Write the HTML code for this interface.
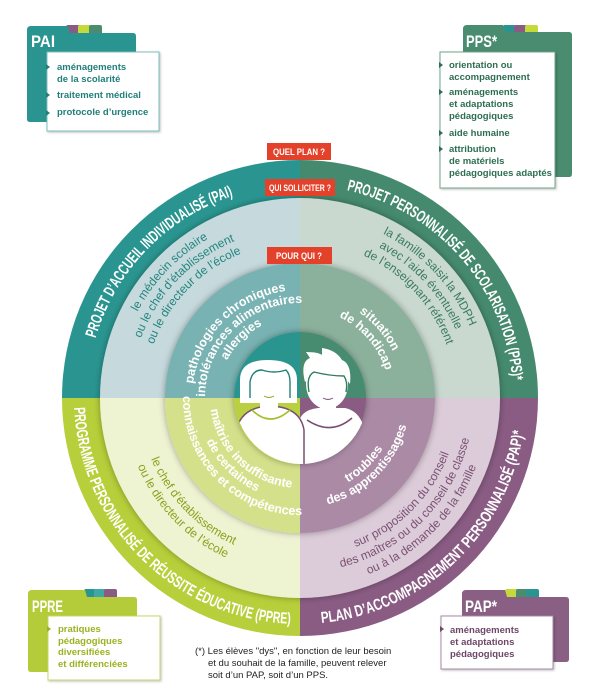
<!DOCTYPE html>
<html><head><meta charset="utf-8">
<style>
html,body{margin:0;padding:0;background:#fff;}
body{width:600px;height:695px;overflow:hidden;position:relative;font-family:"Liberation Sans",sans-serif;}
svg{position:absolute;left:0;top:0;}
</style></head>
<body>
<svg id="s" width="600" height="695" viewBox="0 0 600 695" xmlns="http://www.w3.org/2000/svg">
<defs>
<filter id="sh" x="-20%" y="-20%" width="140%" height="140%"><feDropShadow dx="0" dy="0" stdDeviation="3.5" flood-color="#000" flood-opacity="0.35"/></filter>
<filter id="sh2" x="-20%" y="-20%" width="140%" height="140%"><feDropShadow dx="1" dy="1" stdDeviation="1.2" flood-color="#000" flood-opacity="0.25"/></filter>
<clipPath id="cc"><circle cx="301" cy="398" r="66"/></clipPath>
</defs>
<g id="rings"></g>
<g id="texts"></g>
<!-- children -->
<g clip-path="url(#cc)">
  <path d="M298,470 L298,425 Q300,410 318,408 L345,408 Q364,412 366,440 L366,470 Z" fill="#fff"/>
  <path d="M307,420 Q331,436 352,418" fill="none" stroke="#7a4e72" stroke-width="1.6"/>
  <path d="M236,470 L236,432 Q240,408 268,406 Q300,406 304,430 L304,470 Z" fill="#fff" stroke="#7a4e72" stroke-width="1.5"/>
  <path d="M252,410 Q270,428 290,410" fill="none" stroke="#a6be2c" stroke-width="1.6"/>
</g>
<rect x="260" y="395" width="18" height="16" fill="#fff"/>
<rect x="320" y="395" width="16" height="16" fill="#fff"/>
<path d="M240,403 L240,380 Q240,360 268,360 Q297,360 297,380 L297,403 Z" fill="#fff"/>
<path d="M250,398 L250,382 Q252,370 262,370 Q274,374 286,370 Q290,374 290,382 L290,398" fill="none" stroke="#1f7f7a" stroke-width="1.4"/>
<ellipse cx="327" cy="384" rx="21" ry="25" fill="#fff"/>
<path d="M305,382 Q300,362 310,358 L306,352 Q318,352 322,355 L322,348 Q336,350 342,360 Q352,364 350,384 L344,376 Q330,374 318,370 Q312,376 305,382 Z" fill="#fff"/>
<path d="M309,392 Q306,376 314,372 Q330,376 344,376 Q348,382 346,392" fill="none" stroke="#2f7d5e" stroke-width="1.4"/>
<path d="M264,396 Q269,399 274,396" fill="none" stroke="#8aa31e" stroke-width="1"/>
<path d="M323,398 Q328,401 333,398" fill="none" stroke="#7a4e72" stroke-width="1"/>

<!-- red labels -->
<g font-family="Liberation Sans, sans-serif" font-weight="bold" font-size="9.5" fill="#fff" text-anchor="middle">
<rect x="267" y="143" width="64" height="17" fill="#e4412b"/>
<text x="299" y="155" textLength="52" lengthAdjust="spacingAndGlyphs">QUEL PLAN ?</text>
<rect x="265" y="179" width="70" height="17" fill="#e4412b"/>
<text x="300" y="191" textLength="62" lengthAdjust="spacingAndGlyphs">QUI SOLLICITER ?</text>
<rect x="267" y="247" width="65" height="17" fill="#e4412b"/>
<text x="299" y="259" textLength="46" lengthAdjust="spacingAndGlyphs">POUR QUI ?</text>
</g>

<!-- PAI folder -->
<g font-family="Liberation Sans, sans-serif">
<rect x="66" y="25" width="14" height="12" rx="2" fill="#8a5c84"/>
<rect x="78" y="25" width="13" height="12" rx="2" fill="#c4d93a"/>
<rect x="89" y="25" width="13" height="12" rx="2" fill="#4a8c6f"/>
<path d="M27,30 Q27,26 31,26 L68,26 L70,33 L133,33 Q136,33 136,36 L136,119 Q136,122 133,122 L30,122 Q27,122 27,119 Z" fill="#2a9590"/>
<text x="31" y="47" font-size="17" font-weight="bold" fill="#fff" textLength="24" lengthAdjust="spacingAndGlyphs">PAI</text>
<rect x="47" y="52" width="112" height="79" fill="#fff" stroke="#7fbfbc" stroke-width="1" filter="url(#sh2)"/>
<g font-size="9.5" font-weight="bold" fill="#217f7a">
<path d="M46,64 l4,3 l-4,3z M46,92 l4,3 l-4,3z M46,110 l4,3 l-4,3z" fill="#217f7a"/>
<text x="57" y="70">aménagements</text>
<text x="57" y="82">de la scolarité</text>
<text x="57" y="98">traitement médical</text>
<text x="57" y="115">protocole d’urgence</text>
</g>
</g>

<!-- PPS folder -->
<g font-family="Liberation Sans, sans-serif">
<rect x="503" y="25" width="13" height="12" rx="2" fill="#2a9590"/>
<rect x="514" y="25" width="13" height="12" rx="2" fill="#8a5c84"/>
<rect x="525" y="25" width="13" height="12" rx="2" fill="#c4d93a"/>
<path d="M463,29 Q463,25 467,25 L503,25 L505,32 L569,32 Q572,32 572,35 L572,174 Q572,177 569,177 L466,177 Q463,177 463,174 Z" fill="#4a8c6f"/>
<text x="466" y="47" font-size="17" font-weight="bold" fill="#fff" textLength="31" lengthAdjust="spacingAndGlyphs">PPS*</text>
<rect x="440" y="52" width="115" height="136" fill="#fff" stroke="#6fa68d" stroke-width="1" filter="url(#sh2)"/>
<g font-size="9.5" font-weight="bold" fill="#2d6e52">
<path d="M439,62 l4,3 l-4,3z M439,89 l4,3 l-4,3z M439,130 l4,3 l-4,3z M439,146 l4,3 l-4,3z"/>
<text x="449" y="68">orientation ou</text>
<text x="449" y="80">accompagnement</text>
<text x="449" y="95">aménagements</text>
<text x="449" y="107">et adaptations</text>
<text x="449" y="119">pédagogiques</text>
<text x="449" y="136">aide humaine</text>
<text x="449" y="152">attribution</text>
<text x="449" y="164">de matériels</text>
<text x="449" y="176">pédagogiques adaptés</text>
</g>
</g>

<!-- PPRE folder -->
<g font-family="Liberation Sans, sans-serif">
<rect x="84" y="589" width="12" height="12" rx="2" fill="#2a9590"/>
<rect x="94" y="589" width="12" height="12" rx="2" fill="#3fa7a4"/>
<rect x="104" y="589" width="13" height="12" rx="2" fill="#8a5c84"/>
<path d="M28,594 Q28,590 32,590 L85,590 L87,597 L134,597 Q137,597 137,600 L137,669 Q137,672 134,672 L31,672 Q28,672 28,669 Z" fill="#b5cc3a"/>
<text x="32" y="612" font-size="17" font-weight="bold" fill="#fff" textLength="31" lengthAdjust="spacingAndGlyphs">PPRE</text>
<rect x="48" y="616" width="112" height="64" fill="#fff" stroke="#c8da6a" stroke-width="1" filter="url(#sh2)"/>
<g font-size="9.5" font-weight="bold" fill="#9bb220">
<path d="M47,626 l4,3 l-4,3z"/>
<text x="58" y="632">pratiques</text>
<text x="58" y="644">pédagogiques</text>
<text x="58" y="655">diversifiées</text>
<text x="58" y="667">et différenciées</text>
</g>
</g>

<!-- PAP folder -->
<g font-family="Liberation Sans, sans-serif">
<rect x="505" y="589" width="13" height="12" rx="2" fill="#c4d93a"/>
<rect x="516" y="589" width="12" height="12" rx="2" fill="#4a8c6f"/>
<rect x="526" y="589" width="13" height="12" rx="2" fill="#2a9590"/>
<path d="M462,594 Q462,590 466,590 L505,590 L507,597 L566,597 Q569,597 569,600 L569,659 Q569,662 566,662 L465,662 Q462,662 462,659 Z" fill="#8a5f84"/>
<text x="465" y="612" font-size="17" font-weight="bold" fill="#fff" textLength="32" lengthAdjust="spacingAndGlyphs">PAP*</text>
<rect x="441" y="616" width="112" height="53" fill="#fff" stroke="#a78aa2" stroke-width="1" filter="url(#sh2)"/>
<g font-size="9.5" font-weight="bold" fill="#6e4767">
<path d="M440,626 l4,3 l-4,3z"/>
<text x="450" y="633">aménagements</text>
<text x="450" y="645">et adaptations</text>
<text x="450" y="657">pédagogiques</text>
</g>
</g>

<!-- footnote -->
<g font-family="Liberation Sans, sans-serif" font-size="9.5" fill="#222">
<text x="195" y="654">(*) Les élèves "dys", en fonction de leur besoin</text>
<text x="208" y="666">et du souhait de la famille, peuvent relever</text>
<text x="208" y="678">soit d’un PAP, soit d’un PPS.</text>
</g>
</svg>
<script>
(function(){
var cx=300,cy=398,NS="http://www.w3.org/2000/svg";
function P(r,a){a=a*Math.PI/180;return (cx+r*Math.cos(a)).toFixed(2)+","+(cy+r*Math.sin(a)).toFixed(2);}
function sector(r,a0,a1,fill){return '<path d="M'+cx+','+cy+' L'+P(r,a0)+' A'+r+','+r+' 0 0 1 '+P(r,a1)+' Z" fill="'+fill+'"/>';}
var Q=[[180,270],[270,360],[0,90],[90,180]];
var cols=[
 ["#2a9590","#458a6e","#8a5c84","#b7cf3a"],
 ["#c6dadd","#c9d9cf","#dccbd8","#eef3d2"],
 ["#79b2b2","#8bb19c","#aa8aa5","#d5e18a"],
 ["#2a958f","#468b6f","#8a5c84","#b9d03f"]];
var radii=[238,200,135,66];
var h="";
for(var k=0;k<4;k++){
  h+='<g'+(k>0?' filter="url(#sh)"':'')+'>';
  for(var q=0;q<4;q++)h+=sector(radii[k],Q[q][0],Q[q][1],cols[k][q]);
  h+='</g>';
}
document.getElementById("rings").innerHTML=h;
var t="",id=0;
function arc(r,c,cw,txt,size,fill,weight,len){
  id++;var d;
  if(cw)d='M'+P(r,c-85)+' A'+r+','+r+' 0 0 1 '+P(r,c+85);
  else d='M'+P(r,c+85)+' A'+r+','+r+' 0 0 0 '+P(r,c-85);
  t+='<path id="p'+id+'" d="'+d+'" fill="none"/>';
  t+='<text font-family="Liberation Sans, sans-serif" font-size="'+size+'" font-weight="'+weight+'" fill="'+fill+'"'+(len?' textLength="'+len+'" lengthAdjust="spacingAndGlyphs"':'')+'><textPath href="#p'+id+'" startOffset="50%" text-anchor="middle">'+txt+'</textPath></text>';
}
// outer titles
arc(213,224,true,"PROJET D’ACCUEIL INDIVIDUALISÉ (PAI)",16,"#fff","bold",206);
arc(213,319,true,"PROJET PERSONNALISÉ DE SCOLARISATION (PPS)*",16,"#fff","bold",270);
arc(226,135,false,"PROGRAMME PERSONNALISÉ DE RÉUSSITE ÉDUCATIVE (PPRE)",16,"#fff","bold",336);
arc(226,46.5,false,"PLAN D’ACCOMPAGNEMENT PERSONNALISÉ (PAP)*",16,"#fff","bold",300);
// light ring
arc(184,224,true,"le médecin scolaire",12,"#23847f","normal");
arc(170,224,true,"ou le chef d’établissement",12,"#23847f","normal");
arc(156,224,true,"ou le directeur de l’école",12,"#23847f","normal");
arc(184,317,true,"la famille saisit la MDPH",12,"#3a7b60","normal");
arc(170,317,true,"avec l’aide éventuelle",12,"#3a7b60","normal");
arc(156,317,true,"de l’enseignant référent",12,"#3a7b60","normal");
arc(161,136,false,"le chef d’établissement",12,"#8ba11c","normal");
arc(176,136,false,"ou le directeur de l’école",12,"#8ba11c","normal");
arc(159,45,false,"sur proposition du conseil",12,"#7a5274","normal");
arc(174,45,false,"des maîtres ou du conseil de classe",12,"#7a5274","normal");
arc(189,45,false,"ou à la demande de la famille",12,"#7a5274","normal");
// middle ring
arc(108,225,true,"pathologies chroniques",12.5,"#fff","bold");
arc(95,226,true,"intolérances alimentaires",12.5,"#fff","bold");
arc(82,225,true,"allergies",12.5,"#fff","bold");
arc(104,319,true,"situation",12.5,"#fff","bold");
arc(90,319,true,"de handicap",12.5,"#fff","bold");
arc(97,46,false,"troubles",12.5,"#fff","bold");
arc(110,45,false,"des apprentissages",12.5,"#fff","bold");
arc(90,134,false,"maîtrise insuffisante",12.5,"#fff","bold");
arc(103,135,false,"de certaines",12.5,"#fff","bold");
arc(117,135,false,"connaissances et compétences",12.5,"#fff","bold");
document.getElementById("texts").innerHTML=t;
})();
</script>
</body></html>
